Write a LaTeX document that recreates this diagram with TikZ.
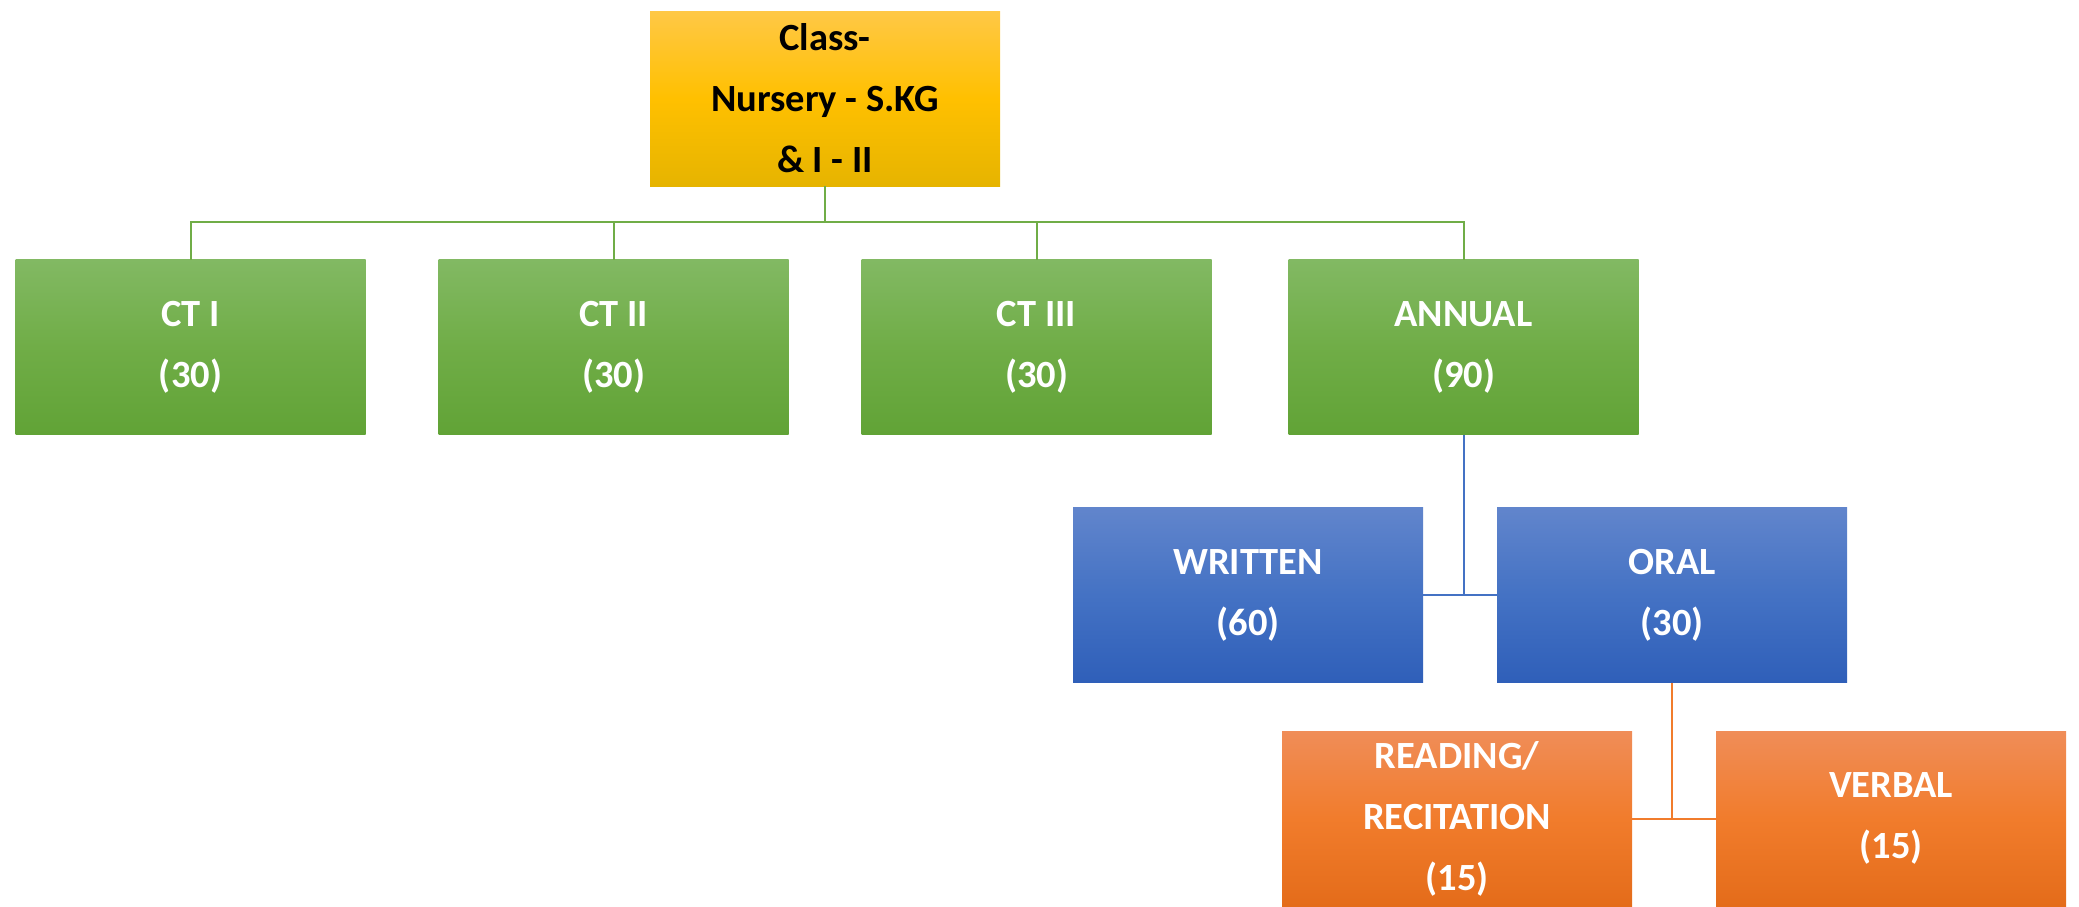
\documentclass[tikz,border=0pt]{standalone}
\usepackage{fontspec}
\setmainfont{Carlito}
\definecolor{gTop}{HTML}{FFC846}
\definecolor{gMid}{HTML}{FFC000}
\definecolor{gBot}{HTML}{E6B400}
\definecolor{grTop}{HTML}{82B963}
\definecolor{grMid}{HTML}{70AD47}
\definecolor{grBot}{HTML}{61A336}
\definecolor{bTop}{HTML}{6185CC}
\definecolor{bMid}{HTML}{4472C4}
\definecolor{bBot}{HTML}{2F5FB9}
\definecolor{oTop}{HTML}{F08D58}
\definecolor{oMid}{HTML}{F17C2C}
\definecolor{oBot}{HTML}{E46C1A}
\begin{document}
\begin{tikzpicture}[x=1pt,y=-1pt,
  box/.style={rectangle, inner sep=0pt, outer sep=0pt, minimum width=350pt, minimum height=175pt,
    align=center, font=\fontsize{38.5}{61}\selectfont\bfseries},
  goldbox/.style={box, top color=gTop, bottom color=gBot, middle color=gMid, text=black},
  greenbox/.style={box, top color=grTop, bottom color=grBot, middle color=grMid, text=white},
  bluebox/.style={box, top color=bTop, bottom color=bBot, middle color=bMid, text=white},
  orangebox/.style={box, top color=oTop, bottom color=oBot, middle color=oMid, text=white},
  gline/.style={draw=grMid, line width=2pt},
  bline/.style={draw=bMid, line width=2pt},
  oline/.style={draw=oMid, line width=2pt}]
\useasboundingbox (0,0) rectangle (2079,906);
\node[goldbox] (top) at (825,98.5) {Class-\\Nursery - S.KG\\\& I - II};
\node[greenbox] (ct1) at (190.5,347) {CT I\\(30)};
\node[greenbox] (ct2) at (613.5,347) {CT II\\(30)};
\node[greenbox] (ct3) at (1036.5,347) {CT III\\(30)};
\node[greenbox] (annual) at (1463.5,347) {ANNUAL\\(90)};
\node[bluebox] (written) at (1248,595) {WRITTEN\\(60)};
\node[bluebox] (oral) at (1672,595) {ORAL\\(30)};
\node[orangebox] (reading) at (1457,818.5) {READING/\\RECITATION\\(15)};
\node[orangebox] (verbal) at (1891,818.5) {VERBAL\\(15)};
\coordinate (bus) at (0,222);
\draw[gline] (top.south) -- (top.south |- bus);
\draw[gline] (ct1.north) -- (ct1.north |- bus) -- (annual.north |- bus) -- (annual.north);
\draw[gline] (ct2.north) -- (ct2.north |- bus);
\draw[gline] (ct3.north) -- (ct3.north |- bus);
\draw[bline] (annual.south) -- (annual.south |- written.east);
\draw[bline] (written.east) -- (oral.west);
\draw[oline] (oral.south) -- (oral.south |- reading.east);
\draw[oline] (reading.east) -- (verbal.west);
\end{tikzpicture}
\end{document}
